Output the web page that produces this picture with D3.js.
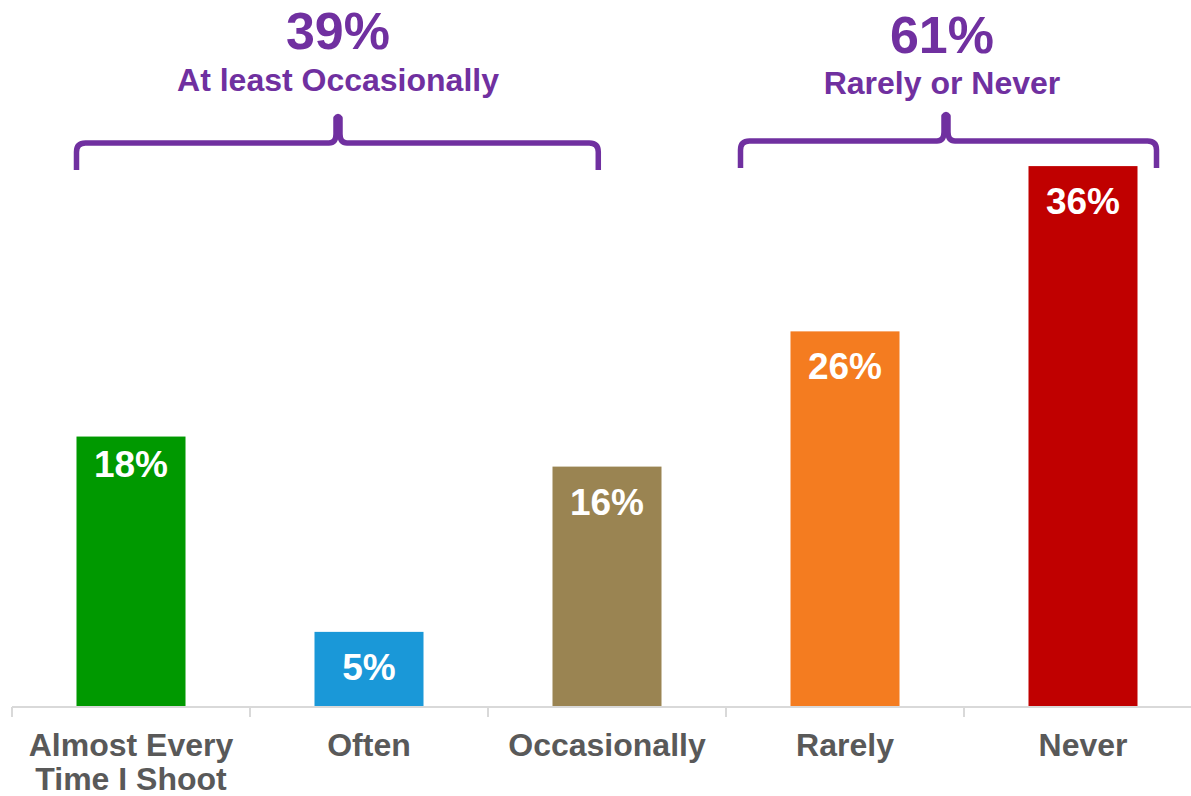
<!DOCTYPE html>
<html><head><meta charset="utf-8">
<script src="https://cdn.jsdelivr.net/npm/d3@7"></script>
<style>
html,body{margin:0;padding:0;background:#fff;}
text{font-family:"Liberation Sans",Arial,Helvetica,sans-serif;font-weight:bold;}
</style></head>
<body>
<svg id="chart" width="1191" height="796"></svg>
<script>
const categories = ["Almost Every\nTime I Shoot", "Often", "Occasionally", "Rarely", "Never"];
const values = [18, 5, 16, 25, 36];
const valueLabels = ["18%", "5%", "16%", "26%", "36%"];
const colors = ["#009900", "#1A98D8", "#9A8452", "#F47C20", "#C00000"];
const groupTotals = ["39%", "61%"];
const groupNames = ["At least Occasionally", "Rarely or Never"];

const svg = d3.select("#chart");
const purple = "#7030A0";

const x = d3.scaleBand().domain(categories).range([12, 1202]).paddingInner(0.542).paddingOuter(0.271);
const y = d3.scaleLinear().domain([0, 40]).range([707, 106]);
const step = x.step(), bw = x.bandwidth(), gap = (step - bw) / 2;

// bars
svg.selectAll("rect.bar").data(values).join("rect")
  .attr("class", "bar")
  .attr("x", (d, i) => x(categories[i]))
  .attr("y", d => y(d))
  .attr("width", bw)
  .attr("height", d => y(0) - y(d))
  .attr("fill", (d, i) => colors[i]);

// value labels
svg.selectAll("text.val").data(values).join("text")
  .attr("class", "val")
  .attr("x", (d, i) => x(categories[i]) + bw / 2)
  .attr("y", (d, i) => y(d) + (i === 0 ? 40 : 48))
  .attr("text-anchor", "middle")
  .attr("fill", "#fff")
  .attr("font-size", 37)
  .text((d, i) => valueLabels[i]);

// axis
const axis = svg.append("g").attr("transform", `translate(0,${y(0)})`)
  .call(d3.axisBottom(x).tickSize(0).tickFormat(""));
axis.select(".domain").attr("stroke", "#D9D9D9").attr("stroke-width", 2).attr("d", `M12,0H1202`);
const bounds = categories.map(c => x(c) - gap).concat([x(categories[4]) + bw + gap]);
axis.selectAll("line.bt").data(bounds).join("line").attr("class", "bt")
  .attr("x1", d => d).attr("x2", d => d).attr("y1", 0).attr("y2", 10)
  .attr("stroke", "#D9D9D9").attr("stroke-width", 2);

// category labels
const cl = svg.selectAll("text.cat").data(categories).join("text")
  .attr("class", "cat")
  .attr("text-anchor", "middle")
  .attr("fill", "#595959")
  .attr("font-size", 32)
  .attr("x", d => x(d) + bw / 2)
  .attr("y", 756);
cl.selectAll("tspan").data(d => d.split("\n")).join("tspan")
  .attr("x", function () { return d3.select(this.parentNode).attr("x"); })
  .attr("dy", (d, i) => i === 0 ? 0 : 34)
  .text(d => d);

// brackets
function bracePath(xl, xr, xm, yl, ye, yp) {
  const r = 9;
  return `M${xl},${ye} L${xl},${yl + r} Q${xl},${yl} ${xl + r},${yl} L${xm - 9},${yl} Q${xm - 2},${yl} ${xm - 2},${yl - 9} L${xm - 2},${yp + 3} Q${xm},${yp} ${xm + 2},${yp + 3} L${xm + 2},${yl - 9} Q${xm + 2},${yl} ${xm + 9},${yl} L${xr - r},${yl} Q${xr},${yl} ${xr},${yl + r} L${xr},${ye}`;
}
const groups = [
  { xl: x(categories[0]), xr: x(categories[2]) + bw * 0.42, xm: 338, yl: 143, ye: 170, yp: 115, tx: 338, ty1: 49, ty2: 91 },
  { xl: x(categories[3]) - 50, xr: x(categories[4]) + bw + 19, xm: 946, yl: 141, ye: 168, yp: 113, tx: 942, ty1: 53, ty2: 94 }
];
groups.forEach((g, i) => {
  svg.append("path").attr("d", bracePath(g.xl, g.xr, g.xm, g.yl, g.ye, g.yp))
    .attr("fill", "none").attr("stroke", purple).attr("stroke-width", 5.5).attr("stroke-linejoin", "round");
  svg.append("text").attr("x", g.tx).attr("y", g.ty1).attr("text-anchor", "middle")
    .attr("fill", purple).attr("font-size", 52).text(groupTotals[i]);
  svg.append("text").attr("x", g.tx).attr("y", g.ty2).attr("text-anchor", "middle")
    .attr("fill", purple).attr("font-size", 32).text(groupNames[i]);
});
</script>
</body></html>
